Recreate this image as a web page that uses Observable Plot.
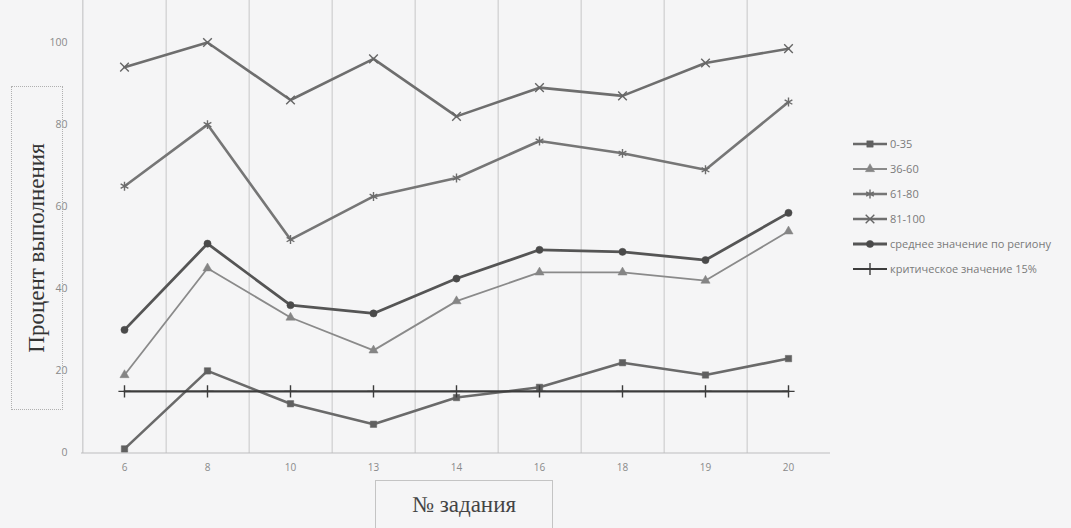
<!DOCTYPE html>
<html>
<head>
<meta charset="utf-8">
<script src="https://cdn.jsdelivr.net/npm/d3@7"></script>
<script src="https://cdn.jsdelivr.net/npm/@observablehq/plot@0.6"></script>
<style>
  html, body { margin: 0; padding: 0; background: #f5f5f6; }
  #wrap { position: relative; width: 1071px; height: 528px; overflow: hidden; }
  #chart { position: absolute; left: 0; top: 0; }
  .ytitle { position: absolute; left: 11px; top: 86px; width: 52px; height: 324px;
            border: 1px dotted #b0b0b0; box-sizing: border-box; }
  .ytitle span { position: absolute; left: 50%; top: 50%; white-space: nowrap;
                 transform: translate(-50%, -50%) rotate(-90deg);
                 font: 23px "Liberation Serif", serif; color: #333; }
  .xtitle { position: absolute; left: 375px; top: 480px; width: 178px; height: 70px;
            border: 1px solid #c4c4c4; box-sizing: border-box; }
  .xtitle span { position: absolute; left: 0; right: 0; top: 11px; text-align: center;
                 font: 23px "Liberation Serif", serif; color: #444; }
  #legend { position: absolute; left: 853px; top: 131px; font: 11px "Open Sans", sans-serif; color: #7a7a7a; }
  #legend .row { height: 25px; display: flex; align-items: center; white-space: nowrap; }
  #legend svg { margin-right: 3px; flex: none; }
</style>
</head>
<body>
<div id="wrap">
  <div id="chart"></div>
  <div class="ytitle"><span>Процент выполнения</span></div>
  <div class="xtitle"><span>№ задания</span></div>
  <div id="legend"></div>
</div>
<script>
// Task numbers along the category axis
const tasks = ["6", "8", "10", "13", "14", "16", "18", "19", "20"];

// Percent of completion per score group
const group0to35   = [1, 20, 12, 7, 13.5, 16, 22, 19, 23];
const group36to60  = [19, 45, 33, 25, 37, 44, 44, 42, 54];
const group61to80  = [65, 80, 52, 62.5, 67, 76, 73, 69, 85.5];
const group81to100 = [94, 100, 86, 96, 82, 89, 87, 95, 98.5];
const regionMean   = [30, 51, 36, 34, 42.5, 49.5, 49, 47, 58.5];
const criticalLine = [15, 15, 15, 15, 15, 15, 15, 15, 15];

const yTicks = [0, 20, 40, 60, 80, 100];

const seriesNames = ["0-35", "36-60", "61-80", "81-100",
                     "среднее значение по региону", "критическое значение 15%"];

// Drawing style of each series, in legend order
const seriesStyle = [
  {values: group0to35,   symbol: "square",   line: "#6a6a6a", width: 2.6, mark: "#606060", filled: true,  r: 3.6},
  {values: group36to60,  symbol: "triangle", line: "#8a8a8a", width: 1.8, mark: "#858585", filled: true,  r: 3.4},
  {values: group61to80,  symbol: "asterisk", line: "#767676", width: 2.6, mark: "#6c6c6c", filled: false, r: 4.2},
  {values: group81to100, symbol: "times",    line: "#6e6e6e", width: 2.6, mark: "#666666", filled: false, r: 4.0},
  {values: regionMean,   symbol: "circle",   line: "#555555", width: 2.8, mark: "#4a4a4a", filled: true,  r: 3.6},
  {values: criticalLine, symbol: "plus",     line: "#3c3c3c", width: 2.2, mark: "#3c3c3c", filled: false, r: 4.0}
].map((s, k) => ({...s, name: seriesNames[k]}));

// Plot geometry
const W = 1071, H = 528;
const frameLeft = 80.7, frameRight = 830.4;
const yBottom = 452.5, yTop = 42;
const step = (frameRight - frameLeft) / tasks.length;

const marks = [
  // category separators and the value-axis line
  Plot.ruleX(tasks.slice(0, -1), {dx: step / 2, stroke: "#c6c6c8", strokeWidth: 1}),
  Plot.ruleX(tasks.slice(0, 1), {dx: -step / 2, stroke: "#bdbdbf", strokeWidth: 1}),
  Plot.ruleY([0], {stroke: "#bdbdbf", strokeWidth: 1}),
  Plot.axisY({ticks: yTicks, tickSize: 0, tickPadding: 14, fill: "#8a8a8a", fontSize: 10.5, label: null}),
  Plot.axisX({tickSize: 0, tickPadding: 10, fill: "#8a8a8a", fontSize: 10, label: null})
];

for (const s of seriesStyle) {
  const rows = tasks.map((t, i) => ({task: t, value: s.values[i]}));
  marks.push(Plot.line(rows, {x: "task", y: "value", stroke: s.line, strokeWidth: s.width}));
  marks.push(Plot.dot(rows, {
    x: "task", y: "value", symbol: s.symbol, r: s.r,
    fill: s.filled ? s.mark : "none",
    stroke: s.mark, strokeWidth: s.filled ? 0.5 : 1.4
  }));
}

const chart = Plot.plot({
  width: W,
  height: H,
  marginLeft: 81,
  marginRight: W - 830,
  marginTop: 0,
  marginBottom: H - 453,
  style: {background: "transparent", fontFamily: "'Open Sans', sans-serif", fontSize: "10px"},
  x: {type: "point", domain: tasks, range: [frameLeft, frameRight], padding: 0.5},
  y: {domain: [0, 100], range: [yBottom, yTop]},
  marks
});
document.getElementById("chart").appendChild(chart);

// Legend: sample line with its marker, then the series name
const symbolTypes = {
  square: d3.symbolSquare, triangle: d3.symbolTriangle, asterisk: d3.symbolAsterisk,
  times: d3.symbolTimes, circle: d3.symbolCircle, plus: d3.symbolPlus
};
const legend = d3.select("#legend");
for (const s of seriesStyle) {
  const row = legend.append("div").attr("class", "row");
  const svg = row.append("svg").attr("width", 34).attr("height", 12);
  svg.append("line").attr("x1", 0).attr("x2", 34).attr("y1", 6).attr("y2", 6)
    .attr("stroke", s.line).attr("stroke-width", s.width);
  svg.append("path")
    .attr("transform", "translate(17,6)")
    .attr("d", d3.symbol(symbolTypes[s.symbol], Math.PI * s.r * s.r)())
    .attr("fill", s.filled ? s.mark : "none")
    .attr("stroke", s.mark).attr("stroke-width", s.filled ? 0.5 : 1.4);
  row.append("span").text(s.name);
}
</script>
</body>
</html>
